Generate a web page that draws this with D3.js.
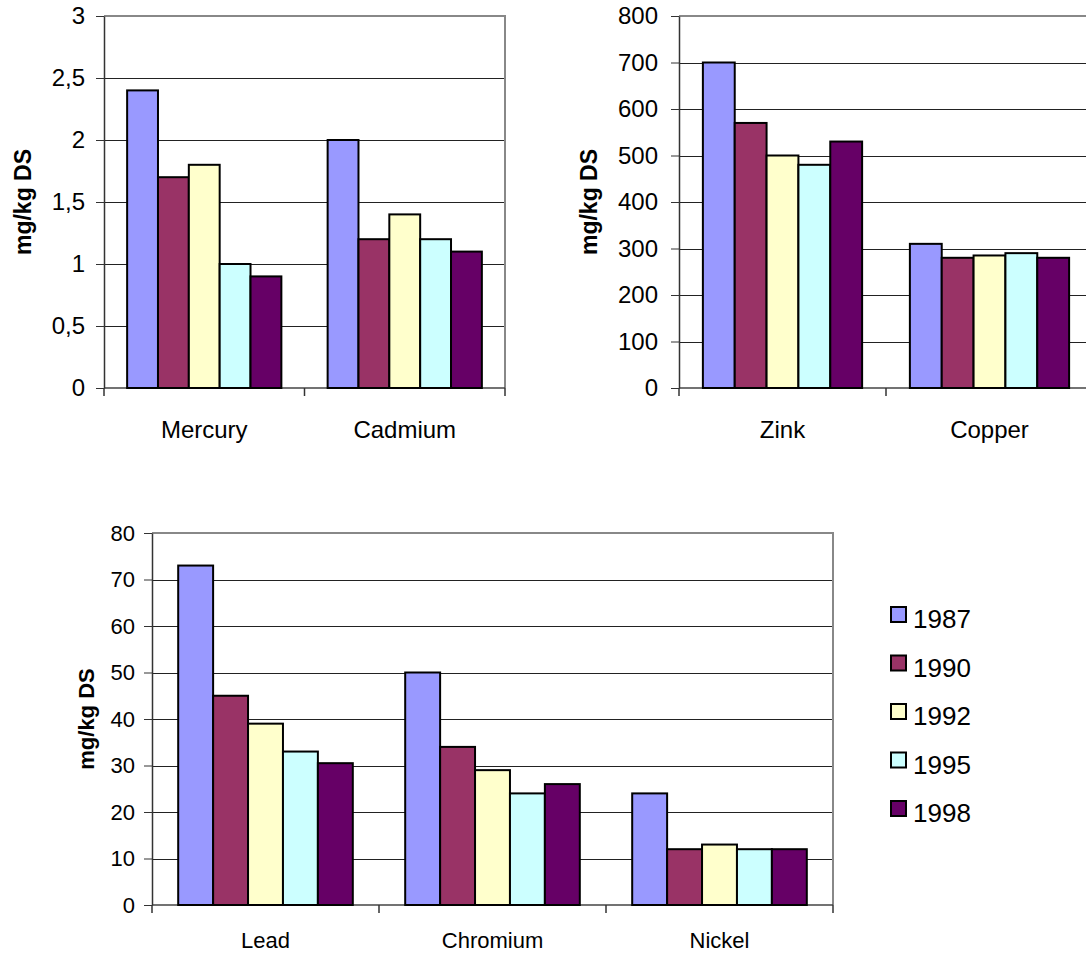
<!DOCTYPE html>
<html>
<head>
<meta charset="utf-8">
<script src="https://cdn.jsdelivr.net/npm/d3@7"></script>
<style>
  body { margin: 0; background: #fff; }
  svg { display: block; font-family: Arial, "Liberation Sans", sans-serif; }
</style>
</head>
<body>
<div id="chart"></div>
<script>
const years = ['1987', '1990', '1992', '1995', '1998'];
const colors = ['#9999ff', '#993366', '#ffffcc', '#ccffff', '#660066'];
const yLabel = 'mg/kg DS';

const metalsA = ['Mercury', 'Cadmium'];
const valuesA = [[2.4, 1.7, 1.8, 1.0, 0.9], [2.0, 1.2, 1.4, 1.2, 1.1]];
const ticksA = [0, 0.5, 1, 1.5, 2, 2.5, 3];

const metalsB = ['Zink', 'Copper'];
const valuesB = [[700, 570, 500, 480, 530], [310, 280, 285, 290, 280]];
const ticksB = [0, 100, 200, 300, 400, 500, 600, 700, 800];

const metalsC = ['Lead', 'Chromium', 'Nickel'];
const valuesC = [[73, 45, 39, 33, 30.5], [50, 34, 29, 24, 26], [24, 12, 13, 12, 12]];
const ticksC = [0, 10, 20, 30, 40, 50, 60, 70, 80];

const width = 1086, height = 954;
const svg = d3.select('#chart').append('svg').attr('width', width).attr('height', height);

function drawPanel(cfg) {
  const g = svg.append('g');
  const x0 = d3.scaleBand().domain(cfg.categories).range([cfg.left, cfg.right]);
  const x1 = d3.scaleBand().domain(years).range([0, x0.bandwidth()]).paddingOuter(0.75);
  const y = d3.scaleLinear().domain([0, d3.max(cfg.ticks)]).range([cfg.bottom, cfg.top]);

  // gridlines
  g.append('g')
    .selectAll('line')
    .data(cfg.ticks.slice(1, -1))
    .join('line')
    .attr('x1', cfg.left)
    .attr('x2', cfg.right)
    .attr('y1', d => Math.round(y(d)) + 0.5)
    .attr('y2', d => Math.round(y(d)) + 0.5)
    .attr('stroke', '#222')
    .attr('stroke-width', 1);

  // plot border (top + right)
  g.append('path')
    .attr('d', `M${cfg.left},${cfg.top}H${cfg.right}V${cfg.bottom}`)
    .attr('fill', 'none')
    .attr('stroke', '#888')
    .attr('stroke-width', 2);

  // x axis line
  g.append('line')
    .attr('x1', cfg.left)
    .attr('x2', cfg.right)
    .attr('y1', cfg.bottom)
    .attr('y2', cfg.bottom)
    .attr('stroke', '#444')
    .attr('stroke-width', 1.5);

  // category boundary ticks
  g.append('g')
    .selectAll('line')
    .data(cfg.categories.map(c => x0(c)).concat([cfg.right]))
    .join('line')
    .attr('x1', d => d)
    .attr('x2', d => d)
    .attr('y1', cfg.bottom)
    .attr('y2', cfg.bottom + 8)
    .attr('stroke', '#333')
    .attr('stroke-width', 1.5);

  // bars
  g.append('g')
    .selectAll('g')
    .data(cfg.categories)
    .join('g')
    .attr('transform', d => `translate(${x0(d)},0)`)
    .selectAll('rect')
    .data((d, i) => cfg.values[i].map((v, j) => ({ year: years[j], v, c: colors[j] })))
    .join('rect')
    .attr('x', d => x1(d.year))
    .attr('y', d => y(d.v))
    .attr('width', x1.bandwidth())
    .attr('height', d => y(0) - y(d.v))
    .attr('fill', d => d.c)
    .attr('stroke', '#000')
    .attr('stroke-width', 2);

  // y axis
  const yAxis = g.append('g')
    .attr('transform', `translate(${cfg.left},0)`)
    .call(d3.axisLeft(y).tickValues(cfg.ticks).tickFormat(cfg.format).tickSize(8).tickSizeOuter(0).tickPadding(cfg.tickPadding));
  yAxis.attr('font-family', null).attr('font-size', cfg.fontSize).attr('color', '#333');
  yAxis.select('.domain').attr('stroke-width', 1.5);
  yAxis.selectAll('text').attr('fill', '#000');

  // category labels
  g.append('g')
    .selectAll('text')
    .data(cfg.categories)
    .join('text')
    .attr('x', d => x0(d) + x0.bandwidth() / 2)
    .attr('y', cfg.bottom + cfg.labelOffset)
    .attr('text-anchor', 'middle')
    .attr('font-size', cfg.fontSize)
    .text(d => d);

  // y title
  g.append('text')
    .attr('transform', `translate(${cfg.titleX},${(cfg.top + cfg.bottom) / 2}) rotate(-90)`)
    .attr('dy', '0.25em')
    .attr('text-anchor', 'middle')
    .attr('font-size', cfg.titleSize)
    .attr('font-weight', 'bold')
    .text(yLabel);
}

const comma = d => String(d).replace('.', ',');

drawPanel({
  categories: metalsA, values: valuesA, ticks: ticksA, format: comma,
  left: 104, right: 505, top: 16, bottom: 388,
  fontSize: 24, titleSize: 23, tickPadding: 11, labelOffset: 50, titleX: 25
});

drawPanel({
  categories: metalsB, values: valuesB, ticks: ticksB, format: d => d,
  left: 679, right: 1093, top: 16, bottom: 388,
  fontSize: 24, titleSize: 23, tickPadding: 13, labelOffset: 50, titleX: 591
});

drawPanel({
  categories: metalsC, values: valuesC, ticks: ticksC, format: d => d,
  left: 152, right: 833, top: 533, bottom: 905,
  fontSize: 22, titleSize: 22, tickPadding: 9, labelOffset: 43, titleX: 88
});

// legend
const ly = d3.scalePoint().domain(years).range([628, 822]);
const legend = svg.append('g')
  .selectAll('g')
  .data(years)
  .join('g')
  .attr('transform', d => `translate(0,${ly(d)})`);

legend.append('rect')
  .attr('x', 891)
  .attr('y', -21)
  .attr('width', 15)
  .attr('height', 15)
  .attr('fill', (d, i) => colors[i])
  .attr('stroke', '#000')
  .attr('stroke-width', 2);

legend.append('text')
  .attr('x', 913)
  .attr('y', 0)
  .attr('font-size', 26)
  .text(d => d);
</script>
</body>
</html>
